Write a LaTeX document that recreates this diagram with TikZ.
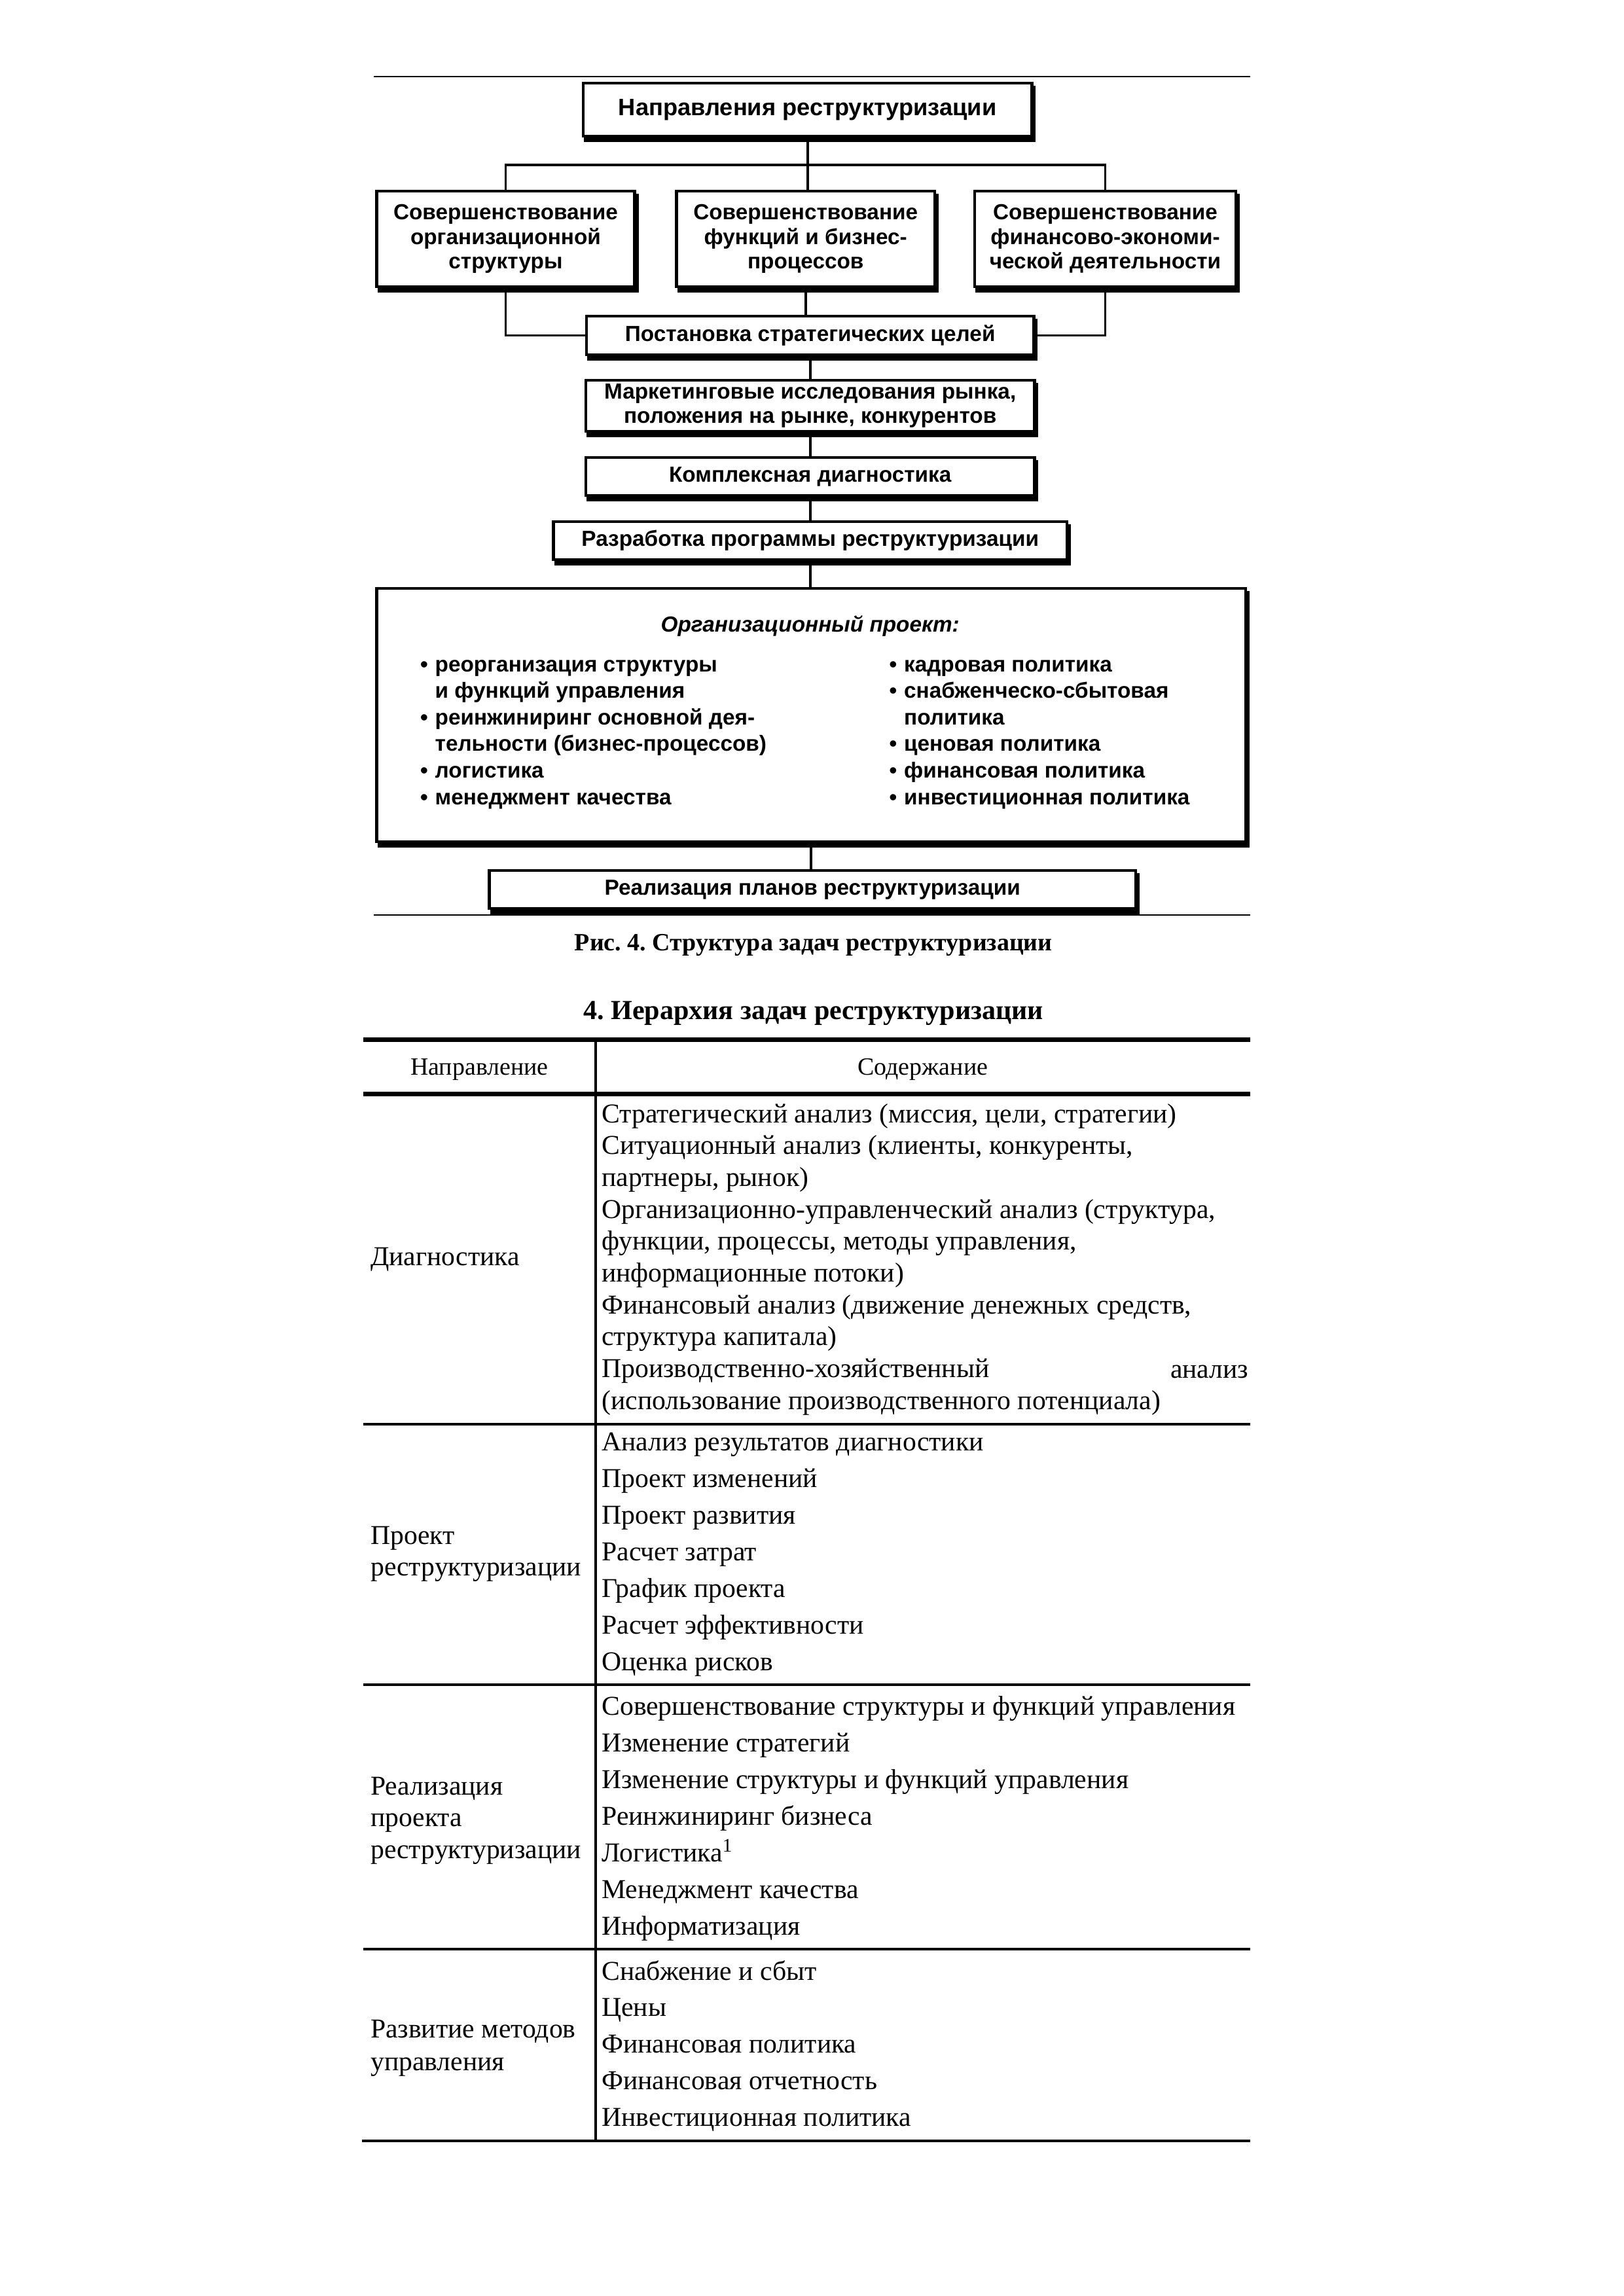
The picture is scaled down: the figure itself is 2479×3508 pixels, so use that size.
\documentclass[tikz,border=0pt]{standalone}
\usepackage{fontspec}
\setmainfont{Liberation Serif}
\newfontfamily\dsans{Liberation Sans}
\frenchspacing
\begin{document}
\begin{tikzpicture}[x=0.24014pt, y=-0.24pt,
  bx/.style={draw, line width=1.1pt, fill=white, inner sep=0pt, align=center,
     font=\dsans\bfseries\fontsize{8}{9}\selectfont,
     preaction={fill=black, draw=black, line width=1.1pt, transform canvas={shift={(0.9pt,-1.6pt)}}}},
  sz/.style 2 args={minimum width=#1*0.24014pt, minimum height=#2*0.24pt},
  con/.style={line width=0.9pt},
  thinrule/.style={line width=0.4pt},
  lst/.style={anchor=base west, inner sep=0pt, align=left, font=\dsans\bfseries\fontsize{8}{9.75}\selectfont},
  tcell/.style={anchor=base west, inner sep=0pt, font=\fontsize{10}{12}\selectfont},
  thead/.style={anchor=base, inner sep=0pt, font=\fontsize{9.1}{11}\selectfont},
  trule/.style={line width=1.7pt},
  trule2/.style={line width=1.1pt}
]
\useasboundingbox (0,0) rectangle (2479,3508);
\fill[white] (0,0) rectangle (2479,3508);

% ---------- figure ----------
\draw[thinrule] (571,117) -- (1909,117);

\node[bx, sz={685}{81}, font=\dsans\bfseries\fontsize{8.7}{10}\selectfont] (tb) at (1233,167.5) {Направления реструктуризации};
\node[bx, sz={394}{146}] (b1) at (772,365) {Совершенствование\\организационной\\структуры};
\node[bx, sz={394}{146}] (b2) at (1230,365) {Совершенствование\\функций и бизнес-\\процессов};
\node[bx, sz={399}{146}] (b3) at (1687.5,365) {Совершенствование\\финансово-экономи-\\ческой деятельности};
\node[bx, sz={683}{59}] (pst) at (1237,512.5) {Постановка стратегических целей};
\node[bx, sz={685}{78}] (mkt) at (1237,620) {Маркетинговые исследования рынка,\\положения на рынке, конкурентов};
\node[bx, sz={685}{58}] (kd) at (1237,728) {Комплексная диагностика};
\node[bx, sz={784}{58}] (rp) at (1237,826) {Разработка программы реструктуризации};
\node[bx, sz={1327}{387}] (big) at (1238.5,1092.5) {};
\node[bx, sz={987}{58}] (real) at (1240.5,1359) {Реализация планов реструктуризации};

\coordinate (hub) at (1233,252);
\draw[con] (tb.south) -- (hub);
\draw[con] (b1.north) |- (hub) -| (b3.north);
\draw[con] (hub) -- (hub |- b2.north);
\draw[con] (b1.south) |- (pst.west);
\draw[con] (b3.south) |- (pst.east);
\draw[con] (b2.south) -- (b2.south |- pst.north);
\draw[con] (pst.south) -- (mkt.north);
\draw[con] (mkt.south) -- (kd.north);
\draw[con] (kd.south) -- (rp.north);
\draw[con] (rp.south) -- (rp.south |- big.north);
\draw[con] (big.south) -- (big.south |- real.north);

\node[anchor=base, inner sep=0pt, font=\dsans\bfseries\itshape\fontsize{8}{9.75}\selectfont] (ophead) at (1237,966) {Организационный проект:};
\node[lst] (lstL) at (641,1026) {\begin{tabular}[t]{@{}l@{\hspace{2.6pt}}l@{}}
•&реорганизация структуры\\
 &и функций управления\\
•&реинжиниринг основной дея-\\
 &тельности (бизнес-процессов)\\
•&логистика\\
•&менеджмент качества
\end{tabular}};
\node[lst] (lstR) at (1357,1026) {\begin{tabular}[t]{@{}l@{\hspace{2.6pt}}l@{}}
•&кадровая политика\\
•&снабженческо-сбытовая\\
 &политика\\
•&ценовая политика\\
•&финансовая политика\\
•&инвестиционная политика
\end{tabular}};

\draw[thinrule] (571,1398) -- (1909,1398);

\node[anchor=base, inner sep=0pt, font=\bfseries\fontsize{9.1}{11}\selectfont] (cap) at (1242,1452) {Рис. 4. Структура задач реструктуризации};
\node[anchor=base, inner sep=0pt, font=\bfseries\fontsize{10.1}{12}\selectfont] (ttl) at (1242,1557) {4. Иерархия задач реструктуризации};

% ---------- table ----------
\draw[trule] (555,1588.5) -- (1909,1588.5);
\draw[trule] (555,1671.5) -- (1909,1671.5);
\draw[trule2] (555,2176) -- (1909,2176);
\draw[trule2] (555,2574) -- (1909,2574);
\draw[trule2] (555,2978) -- (1909,2978);
\draw[trule2] (553,3271) -- (1909,3271);
\draw[line width=1pt] (909.5,1592) -- (909.5,3271);

\node[thead] (h1) at (732,1642) {Направление};
\node[thead] (h2) at (1409,1642) {Содержание};

\node[tcell] (l1) at (565,1933) {Диагностика};
\node[tcell] (l2a) at (565,2359) {Проект};
\node[tcell] (l2b) at (565,2407) {реструктуризации};
\node[tcell] (l3a) at (565,2742) {Реализация};
\node[tcell] (l3b) at (565,2790) {проекта};
\node[tcell] (l3c) at (565,2839) {реструктуризации};
\node[tcell] (l4a) at (565,3113) {Развитие методов};
\node[tcell] (l4b) at (565,3163) {управления};

\foreach \t [count=\i] in {{Стратегический анализ (миссия, цели, стратегии)},
  {Ситуационный анализ (клиенты, конкуренты,},
  {партнеры, рынок)},
  {Организационно-управленческий анализ (структура,},
  {функции, процессы, методы управления,},
  {информационные потоки)},
  {Финансовый анализ (движение денежных средств,},
  {структура капитала)},
  {Производственно-хозяйственный},
  {(использование производственного потенциала)}}
  \node[tcell] (d\i) at (918,{1715+48.7*(\i-1)}) {\t};
\node[tcell, anchor=base east] (d9b) at (1907,2105) {анализ};

\foreach \t [count=\i] in {Анализ результатов диагностики, Проект изменений, Проект развития,
  Расчет затрат, График проекта, Расчет эффективности, Оценка рисков}
  \node[tcell] (p\i) at (918,{2216+56.1*(\i-1)}) {\t};

\foreach \t [count=\i] in {Совершенствование структуры и функций управления, Изменение стратегий,
  Изменение структуры и функций управления, Реинжиниринг бизнеса, Логистика\textsuperscript{1},
  Менеджмент качества, Информатизация}
  \node[tcell] (r\i) at (918,{2620+56.1*(\i-1)}) {\t};

\foreach \t [count=\i] in {Снабжение и сбыт, Цены, Финансовая политика, Финансовая отчетность,
  Инвестиционная политика}
  \node[tcell] (m\i) at (918,{3025+55.8*(\i-1)}) {\t};
\end{tikzpicture}
\end{document}
